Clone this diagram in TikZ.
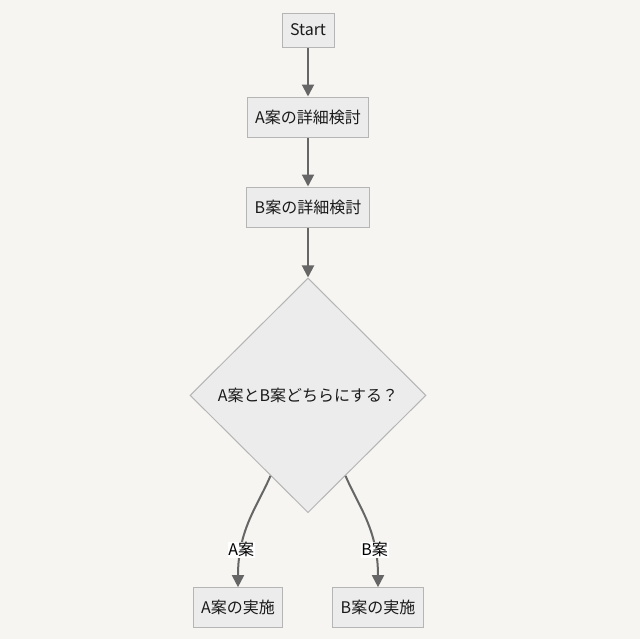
\documentclass[tikz,border=0pt]{standalone}
\usepackage{fontspec}
\setmainfont{Noto Sans CJK JP}
\usetikzlibrary{arrows.meta, shapes.geometric}
\usetikzlibrary{positioning}
\definecolor{bg_color}{HTML}{F6F5F2}
\definecolor{box_fill}{HTML}{ECECEC}
\definecolor{box_line}{HTML}{B5B5B5}
\definecolor{edge_color}{HTML}{666666}
\definecolor{text_color}{HTML}{1A1A1A}
\tikzstyle{box_node} = [
    rectangle,
    font=\fontsize{12pt}{14pt}\selectfont,
    text=text_color,
    draw=box_line,
    fill=box_fill,
    line width=0.75pt,
    inner xsep=6pt,
    inner ysep=0pt,
    minimum height=30pt,
    align=center
]
\tikzstyle{decision_node} = [
    diamond,
    font=\fontsize{12pt}{14pt}\selectfont,
    text=text_color,
    draw=box_line,
    fill=box_fill,
    line width=0.75pt,
    shape aspect=1,
    inner sep=0pt,
    minimum width=177pt,
    minimum height=176pt
]
\tikzstyle{edge_label} = [
    font=\fontsize{12pt}{14pt}\selectfont,
    text=black,
    fill=white,
    inner sep=0.5pt
]
\tikzstyle{arrow_line} = [
    draw=edge_color,
    line width=1.5pt,
    -{Triangle[length=9pt,width=9pt]}
]
\begin{document}
\begin{tikzpicture}[x=0.75pt, y=-0.75pt]
\fill[bg_color] (0,0) rectangle (640,639);
\useasboundingbox (0,0) rectangle (640,639);

\node [box_node, minimum height=25.5pt] (start) at (308,30) {Start};
\node [box_node, below=36.75pt of start] (plan_a) {A案の詳細検討};
\node [box_node, below=36.75pt of plan_a] (plan_b) {B案の詳細検討};
\node [decision_node, below=37.5pt of plan_b] (choice) {A案とB案どちらにする？};
\node [box_node, below=55.5pt of choice, xshift=-52.5pt] (do_a) {A案の実施};
\node [box_node, below=55.5pt of choice, xshift=52.5pt] (do_b) {B案の実施};

\draw [arrow_line] (start) -- (plan_a);
\draw [arrow_line] (plan_a) -- (plan_b);
\draw [arrow_line] (plan_b) -- (choice);
\draw [arrow_line] (choice.245) .. controls +(-9.5pt,-22.5pt) and +(0,43.5pt) .. (do_a.north)
    node [edge_label, pos=0.75] {A案};
\draw [arrow_line] (choice.295) .. controls +(9.5pt,-22.5pt) and +(0,43.5pt) .. (do_b.north)
    node [edge_label, pos=0.75] {B案};
\end{tikzpicture}
\end{document}
